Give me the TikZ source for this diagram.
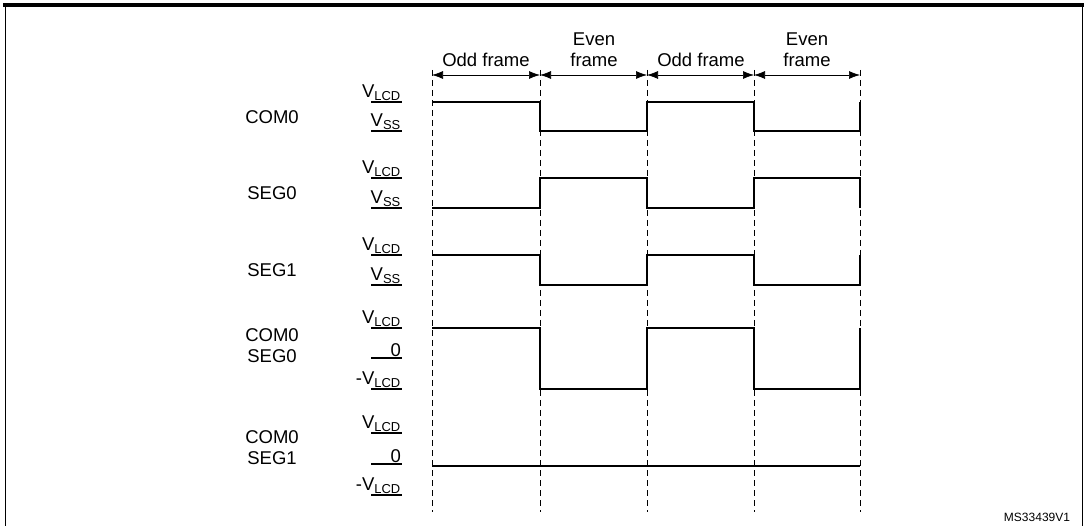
\documentclass[tikz,border=0pt]{standalone}
\usepackage{fontspec}
\setmainfont{Liberation Sans}
\usetikzlibrary{arrows.meta}
\begin{document}
\begin{tikzpicture}[x=1pt,y=-1pt,
  lbl/.style={font=\fontsize{18.5}{21}\selectfont, inner sep=0pt},
  lvl/.style={font=\fontsize{18.5}{21}\selectfont, inner sep=1pt, anchor=south east},
  sig/.style={line width=2.2pt},
  grid/.style={dash pattern=on 6pt off 4pt, line width=0.7pt},
  span/.style={{Latex[length=11pt,width=8pt]}-{Latex[length=11pt,width=8pt]}, line width=0.7pt},
  under/.style={line width=1.8pt}]
\useasboundingbox (0,0) rectangle (1087,526);
\draw[line width=4pt] (3,5) -- (1084,5);
\draw[line width=1pt] (5,5) -- (5,526) (1082,5) -- (1082,526);
% grid
\foreach \x/\n in {432/a,540/b,647/c,754/d,860/e}{
  \coordinate (t\n) at (\x,70); \coordinate (b\n) at (\x,512);
  \draw[grid] (t\n) -- (b\n);
  \coordinate (r\n) at (\x,75);}
\draw[span] (ra) -- (rb);
\draw[span] (rb) -- (rc);
\draw[span] (rc) -- (rd);
\draw[span] (rd) -- (re);
\node[lbl] (f1) at (486,60) {Odd frame};
\node[lbl,align=center] (f2) at (594,50) {Even\\frame};
\node[lbl] (f3) at (701,60) {Odd frame};
\node[lbl,align=center] (f4) at (807,50) {Even\\frame};
% row labels
\node[lbl] (n1) at (272,117) {COM0};
\node[lbl] (n2) at (272,193) {SEG0};
\node[lbl] (n3) at (272,270) {SEG1};
\node[lbl,align=center] (n4) at (272,346) {COM0\\SEG0};
\node[lbl,align=center] (n5) at (272,448) {COM0\\SEG1};
% level labels
\newcommand{\lev}[3]{\node[lvl] (#1) at (402,#2) {#3}; \draw[under] (371,#2) -- (402,#2);}
\lev{l1}{102}{V\textsubscript{LCD}}
\lev{l2}{131}{V\textsubscript{SS}}
\lev{l3}{178}{V\textsubscript{LCD}}
\lev{l4}{208}{V\textsubscript{SS}}
\lev{l5}{255}{V\textsubscript{LCD}}
\lev{l6}{285}{V\textsubscript{SS}}
\lev{l7}{328}{V\textsubscript{LCD}}
\lev{l8}{358}{0}
\lev{l9}{389}{-V\textsubscript{LCD}}
\lev{l10}{433}{V\textsubscript{LCD}}
\lev{l11}{464}{0}
\lev{l12}{495}{-V\textsubscript{LCD}}
% signals
\draw[sig] (432,102) -- (540,102) -- (540,131) -- (647,131) -- (647,102) -- (754,102) -- (754,131) -- (860,131) -- (860,102);
\draw[sig] (432,208) -- (540,208) -- (540,178) -- (647,178) -- (647,208) -- (754,208) -- (754,178) -- (860,178) -- (860,208);
\draw[sig] (432,255) -- (540,255) -- (540,285) -- (647,285) -- (647,255) -- (754,255) -- (754,285) -- (860,285) -- (860,255);
\draw[sig] (432,328) -- (540,328) -- (540,389) -- (647,389) -- (647,328) -- (754,328) -- (754,389) -- (860,389) -- (860,328);
\draw[sig] (432,466) -- (860,466);
\node[font=\fontsize{12}{14}\selectfont, inner sep=0pt] (ms) at (1037,517) {MS33439V1};
\end{tikzpicture}
\end{document}
